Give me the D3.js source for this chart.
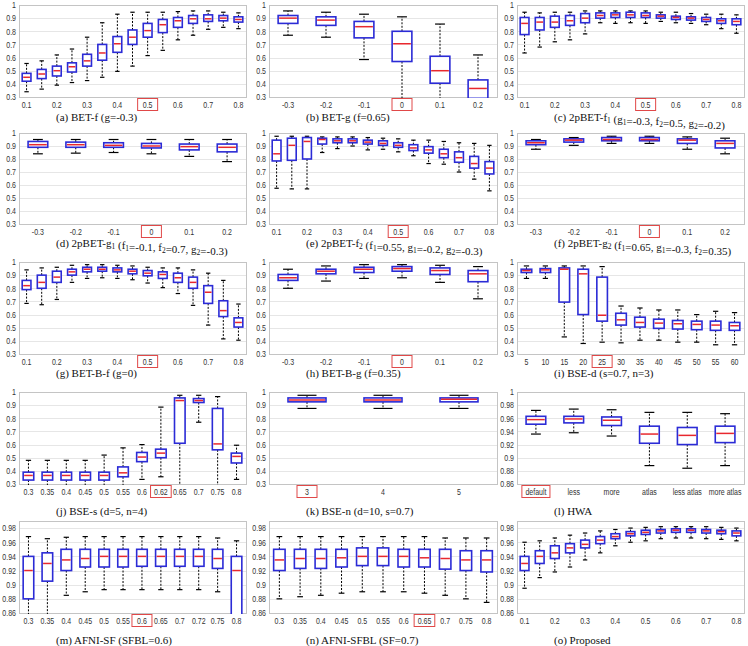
<!DOCTYPE html>
<html>
<head>
<meta charset="utf-8">
<script src="https://cdn.jsdelivr.net/npm/d3@7"></script>
<style>
  body { margin: 0; background: #fff; }
  svg { display: block; }
</style>
</head>
<body>
<div id="chart"></div>
<script>
// box stats are [low whisker, q1, median, q3, high whisker]

const fCats15 = ["0.1","0.15","0.2","0.25","0.3","0.35","0.4","0.45","0.5","0.55","0.6","0.65","0.7","0.75","0.8"];
const gCats6 = ["-0.3","-0.2","-0.1","0","0.1","0.2"];

const aStats = [
  [0.34,0.42,0.45,0.48,0.555],[0.36,0.44,0.475,0.51,0.575],[0.39,0.46,0.50,0.535,0.62],
  [0.41,0.49,0.53,0.56,0.665],[0.425,0.535,0.575,0.625,0.755],[0.45,0.58,0.635,0.70,0.865],
  [0.495,0.64,0.705,0.76,0.93],[0.535,0.70,0.755,0.81,0.945],[0.615,0.755,0.805,0.86,0.945],
  [0.655,0.79,0.85,0.89,0.945],[0.735,0.83,0.88,0.905,0.95],[0.77,0.86,0.895,0.92,0.955],
  [0.815,0.875,0.895,0.925,0.955],[0.83,0.88,0.90,0.92,0.945],[0.82,0.87,0.89,0.91,0.94]
];
const bStats = [
  [0.77,0.86,0.90,0.92,0.955],[0.755,0.845,0.885,0.91,0.945],[0.585,0.75,0.835,0.875,0.93],
  [0.25,0.57,0.705,0.80,0.91],[0.25,0.405,0.50,0.61,0.855],[0.25,0.29,0.365,0.43,0.62]
];
const cStats = [
  [0.635,0.775,0.86,0.905,0.945],[0.68,0.81,0.87,0.905,0.94],[0.72,0.83,0.87,0.915,0.945],
  [0.735,0.845,0.88,0.92,0.945],[0.78,0.865,0.90,0.935,0.955],[0.865,0.90,0.92,0.94,0.955],
  [0.86,0.905,0.925,0.94,0.955],[0.865,0.905,0.925,0.945,0.955],[0.86,0.905,0.92,0.94,0.955],
  [0.875,0.90,0.915,0.925,0.945],[0.865,0.89,0.905,0.915,0.945],[0.86,0.885,0.90,0.91,0.935],
  [0.85,0.875,0.89,0.905,0.93],[0.82,0.86,0.88,0.895,0.93],[0.785,0.85,0.875,0.895,0.925]
];
const dStats = [
  [0.84,0.89,0.91,0.935,0.95],[0.845,0.89,0.91,0.93,0.95],[0.85,0.89,0.905,0.925,0.95],
  [0.84,0.885,0.90,0.92,0.95],[0.82,0.87,0.895,0.915,0.95],[0.78,0.855,0.89,0.915,0.95]
];
const eStats = [
  [0.575,0.785,0.84,0.945,0.975],[0.57,0.79,0.905,0.96,0.975],[0.57,0.80,0.935,0.965,0.975],
  [0.85,0.915,0.95,0.96,0.97],[0.88,0.925,0.94,0.955,0.97],[0.90,0.925,0.94,0.955,0.97],
  [0.87,0.915,0.93,0.945,0.965],[0.875,0.905,0.92,0.94,0.96],[0.855,0.89,0.905,0.925,0.955],
  [0.825,0.865,0.885,0.91,0.945],[0.765,0.845,0.87,0.895,0.945],[0.76,0.81,0.84,0.875,0.935],
  [0.70,0.775,0.81,0.855,0.925],[0.645,0.73,0.765,0.82,0.92],[0.555,0.685,0.73,0.78,0.905]
];
const fStats = [
  [0.875,0.91,0.925,0.94,0.95],[0.905,0.93,0.945,0.955,0.965],[0.92,0.94,0.95,0.965,0.975],
  [0.92,0.94,0.95,0.965,0.975],[0.875,0.92,0.945,0.955,0.97],[0.84,0.885,0.92,0.94,0.96]
];
const gStats = [
  [0.685,0.79,0.82,0.86,0.94],[0.675,0.80,0.845,0.90,0.955],[0.715,0.845,0.885,0.93,0.96],
  [0.845,0.90,0.925,0.945,0.975],[0.875,0.925,0.945,0.96,0.98],[0.88,0.93,0.945,0.96,0.98],
  [0.875,0.925,0.94,0.955,0.975],[0.865,0.91,0.93,0.945,0.97],[0.84,0.895,0.915,0.935,0.96],
  [0.805,0.875,0.905,0.925,0.955],[0.76,0.845,0.88,0.915,0.955],[0.67,0.80,0.845,0.885,0.94],
  [0.52,0.685,0.77,0.82,0.915],[0.415,0.585,0.63,0.705,0.86],[0.405,0.505,0.54,0.575,0.68]
];
const hStats = [
  [0.80,0.86,0.88,0.905,0.945],[0.855,0.91,0.93,0.945,0.97],[0.875,0.92,0.945,0.96,0.98],
  [0.88,0.93,0.95,0.965,0.98],[0.845,0.905,0.935,0.955,0.975],[0.72,0.85,0.91,0.935,0.965]
];
const iCats = ["5","10","15","20","25","30","35","40","45","50","55","60"];
const iStats = [
  [0.875,0.92,0.935,0.945,0.97],[0.875,0.92,0.94,0.95,0.97],[0.43,0.695,0.945,0.955,0.97],
  [0.38,0.60,0.91,0.945,0.97],[0.39,0.55,0.595,0.885,0.965],[0.385,0.52,0.56,0.61,0.665],
  [0.405,0.505,0.54,0.58,0.65],[0.405,0.495,0.535,0.565,0.635],[0.39,0.49,0.53,0.555,0.635],
  [0.39,0.485,0.525,0.55,0.60],[0.37,0.48,0.52,0.55,0.625],[0.37,0.48,0.515,0.54,0.615]
];
const jCats = ["0.3","0.35","0.4","0.45","0.5","0.55","0.6","0.62","0.65","0.7","0.75","0.8"];
const jStats = [
  [0.28,0.33,0.365,0.39,0.48],[0.28,0.33,0.365,0.39,0.48],[0.28,0.33,0.365,0.39,0.48],
  [0.28,0.33,0.365,0.39,0.48],[0.28,0.33,0.365,0.39,0.52],[0.28,0.355,0.385,0.43,0.575],
  [0.335,0.47,0.505,0.54,0.60],[0.355,0.50,0.535,0.565,0.885],[0.25,0.61,0.935,0.955,0.975],
  [0.77,0.92,0.935,0.95,0.975],[0.25,0.56,0.605,0.875,0.965],[0.335,0.46,0.51,0.535,0.595]
];
const kCats = ["3","4","5"];
const kStats = [
  [0.875,0.925,0.94,0.955,0.975],[0.875,0.925,0.94,0.955,0.975],[0.875,0.925,0.945,0.955,0.975]
];
const lCats = ["default","less","more","atlas","less atlas","more atlas"];
const lStats = [
  [0.936,0.951,0.958,0.963,0.972],[0.938,0.953,0.959,0.963,0.974],[0.933,0.949,0.957,0.962,0.973],
  [0.888,0.922,0.936,0.948,0.969],[0.884,0.920,0.934,0.946,0.969],[0.888,0.923,0.937,0.948,0.967]
];
const mCats = ["0.3","0.35","0.4","0.45","0.5","0.55","0.6","0.65","0.7","0.72","0.75","0.8"];
const mStats = [
  [0.85,0.88,0.92,0.94,0.968],[0.855,0.905,0.93,0.945,0.965],[0.885,0.92,0.935,0.95,0.967],
  [0.89,0.925,0.937,0.95,0.968],[0.893,0.925,0.94,0.95,0.968],[0.893,0.925,0.94,0.95,0.968],
  [0.893,0.926,0.94,0.95,0.968],[0.893,0.926,0.94,0.95,0.968],[0.893,0.926,0.94,0.95,0.968],
  [0.893,0.926,0.94,0.95,0.968],[0.89,0.923,0.937,0.95,0.966],[0.85,0.855,0.92,0.94,0.962]
];
const nCats = ["0.3","0.35","0.4","0.45","0.5","0.55","0.6","0.65","0.7","0.75","0.8"];
const nStats = [
  [0.88,0.92,0.935,0.95,0.968],[0.883,0.923,0.937,0.95,0.968],[0.885,0.923,0.937,0.95,0.968],
  [0.888,0.925,0.938,0.95,0.968],[0.89,0.927,0.94,0.952,0.968],[0.89,0.927,0.94,0.952,0.968],
  [0.89,0.925,0.94,0.95,0.968],[0.888,0.925,0.938,0.95,0.968],[0.885,0.922,0.937,0.95,0.966],
  [0.88,0.92,0.935,0.948,0.966],[0.875,0.918,0.935,0.948,0.966]
];
const oStats = [
  [0.895,0.92,0.93,0.94,0.96],[0.91,0.93,0.94,0.948,0.962],[0.918,0.937,0.945,0.955,0.966],
  [0.925,0.945,0.952,0.958,0.97],[0.935,0.952,0.957,0.963,0.973],[0.945,0.958,0.963,0.968,0.976],
  [0.955,0.965,0.968,0.972,0.978],[0.96,0.969,0.972,0.975,0.98],[0.962,0.971,0.974,0.977,0.981],
  [0.965,0.973,0.976,0.978,0.982],[0.966,0.974,0.977,0.979,0.982],[0.966,0.974,0.977,0.979,0.982],
  [0.965,0.973,0.976,0.978,0.982],[0.964,0.972,0.975,0.977,0.981],[0.962,0.969,0.973,0.976,0.98]
];

// y ranges: [min, max, tick step]
const wideAxis = [0.3, 1, 0.1];
const hwaAxis = [0.86, 1, 0.02];
const lastRowAxis = [0.86, 0.99, 0.02];

// caption text uses _1 / _2 for subscripts
const panels = [
  {cap: "(a) BET-f (g=-0.3)", cats: fCats15, stats: aStats, mark: "0.5", every: 2, axis: wideAxis},
  {cap: "(b) BET-g (f=0.65)", cats: gCats6, stats: bStats, mark: "0", every: 1, axis: wideAxis},
  {cap: "(c) 2pBET-f_1 (g_1=-0.3, f_2=0.5, g_2=-0.2)", cats: fCats15, stats: cStats, mark: "0.5", every: 2, axis: wideAxis},
  {cap: "(d) 2pBET-g_1 (f_1=-0.1, f_2=0.7, g_2=-0.3)", cats: gCats6, stats: dStats, mark: "0", every: 1, axis: wideAxis},
  {cap: "(e) 2pBET-f_2 (f_1=0.55, g_1=-0.2, g_2=-0.3)", cats: fCats15, stats: eStats, mark: "0.5", every: 2, axis: wideAxis},
  {cap: "(f) 2pBET-g_2 (f_1=0.65, g_1=-0.3, f_2=0.35)", cats: gCats6, stats: fStats, mark: "0", every: 1, axis: wideAxis},
  {cap: "(g) BET-B-f (g=0)", cats: fCats15, stats: gStats, mark: "0.5", every: 2, axis: wideAxis},
  {cap: "(h) BET-B-g (f=0.35)", cats: gCats6, stats: hStats, mark: "0", every: 1, axis: wideAxis},
  {cap: "(i) BSE-d (s=0.7, n=3)", cats: iCats, stats: iStats, mark: "25", every: 1, axis: wideAxis},
  {cap: "(j) BSE-s (d=5, n=4)", cats: jCats, stats: jStats, mark: "0.62", every: 1, axis: wideAxis},
  {cap: "(k) BSE-n (d=10, s=0.7)", cats: kCats, stats: kStats, mark: "3", every: 1, axis: wideAxis},
  {cap: "(l) HWA", cats: lCats, stats: lStats, mark: "default", every: 1, axis: hwaAxis},
  {cap: "(m) AFNI-SF (SFBL=0.6)", cats: mCats, stats: mStats, mark: "0.6", every: 1, axis: lastRowAxis},
  {cap: "(n) AFNI-SFBL (SF=0.7)", cats: nCats, stats: nStats, mark: "0.65", every: 1, axis: lastRowAxis},
  {cap: "(o) Proposed", cats: fCats15, stats: oStats, mark: null, every: 2, axis: lastRowAxis}
];

const width = 748, height = 646;
const colX = [[19, 246], [269, 497], [517, 744]];
const rowY = [[5, 97], [133, 224], [262, 354], [392, 484], [521, 613]];
const capDy = [24, 23, 23, 31, 31];
const squeeze = 0.78;   // tick text in the original is a narrow face

const svg = d3.select("#chart").append("svg")
  .attr("width", width).attr("height", height)
  .style("font-family", "'Liberation Sans', Arial, sans-serif");

panels.forEach((p, idx) => {
  const col = idx % 3, row = Math.floor(idx / 3);
  const [x0, x1] = colX[col];
  const [y0, y1] = rowY[row];
  const [ymin, ymax, tstep] = p.axis;

  const x = d3.scalePoint().domain(p.cats).range([x0, x1]).padding(0.5);
  const y = d3.scaleLinear().domain([ymin, ymax]).range([y1, y0]);
  const step = x.step();
  const bw = step * 0.48 + 1.5;

  const g = svg.append("g");

  const ticks = d3.range(ymin, ymax + 1e-6, tstep).map(t => +t.toFixed(2));

  g.selectAll(".grid").data(ticks).enter().append("line")
    .attr("x1", x0).attr("x2", x1)
    .attr("y1", d => Math.round(y(d)) + 0.5).attr("y2", d => Math.round(y(d)) + 0.5)
    .attr("stroke", "#e6e6e6").attr("stroke-width", 1);

  g.append("rect")
    .attr("x", x0 + 0.5).attr("y", y0 + 0.5)
    .attr("width", x1 - x0).attr("height", y1 - y0)
    .attr("fill", "none").attr("stroke", "#c4c4c4").attr("stroke-width", 1);

  g.selectAll(".ylab").data(ticks).enter().append("text")
    .attr("transform", d => `translate(${x0 - 3},${y(d) + 3.3}) scale(${squeeze},1)`)
    .attr("text-anchor", "end").attr("font-size", 9).attr("fill", "#333")
    .text(d => String(d));

  // boxes, clipped to the plot frame
  const clipId = "clip" + idx;
  svg.append("clipPath").attr("id", clipId).append("rect")
    .attr("x", x0).attr("y", y0).attr("width", x1 - x0 + 1).attr("height", y1 - y0 + 1);

  const boxes = g.append("g").attr("clip-path", `url(#${clipId})`)
    .selectAll("g").data(p.stats).enter().append("g")
    .attr("transform", (d, i) => `translate(${x(p.cats[i])},0)`);

  boxes.append("line")
    .attr("y1", d => y(d[3])).attr("y2", d => y(d[4]))
    .attr("stroke", "#000").attr("stroke-width", 1).attr("stroke-dasharray", "2,1.5");
  boxes.append("line")
    .attr("y1", d => y(d[1])).attr("y2", d => y(d[0]))
    .attr("stroke", "#000").attr("stroke-width", 1).attr("stroke-dasharray", "2,1.5");
  boxes.append("line")
    .attr("x1", -bw / 4).attr("x2", bw / 4)
    .attr("y1", d => y(d[4])).attr("y2", d => y(d[4]))
    .attr("stroke", "#000").attr("stroke-width", 1.2);
  boxes.append("line")
    .attr("x1", -bw / 4).attr("x2", bw / 4)
    .attr("y1", d => y(d[0])).attr("y2", d => y(d[0]))
    .attr("stroke", "#000").attr("stroke-width", 1.2);
  boxes.append("rect")
    .attr("x", -bw / 2).attr("width", bw)
    .attr("y", d => y(d[3])).attr("height", d => Math.max(1, y(d[1]) - y(d[3])))
    .attr("fill", "#fff").attr("stroke", "#2b2bd6").attr("stroke-width", 1.6);
  boxes.append("line")
    .attr("x1", -bw / 2 + 1).attr("x2", bw / 2 - 1)
    .attr("y1", d => y(d[2])).attr("y2", d => y(d[2]))
    .attr("stroke", "#e8282e").attr("stroke-width", 1.5);

  // x labels
  const shown = p.cats.filter((c, i) => i % p.every === 0);
  const xl = g.selectAll(".xlab").data(shown).enter().append("text")
    .attr("transform", d => `translate(${x(d)},${y1 + 10.5}) scale(${squeeze},1)`)
    .attr("text-anchor", "middle").attr("font-size", 9).attr("fill", "#333")
    .text(d => d);

  if (p.mark !== null) {
    const node = xl.filter(d => d === p.mark).node();
    const tw = Math.max(20, node.getComputedTextLength() * squeeze + 7);
    g.append("rect")
      .attr("x", x(p.mark) - tw / 2).attr("y", y1 + 1.5)
      .attr("width", tw).attr("height", 12)
      .attr("fill", "none").attr("stroke", "#e04848").attr("stroke-width", 1);
  }

  // caption with subscripts
  const cap = g.append("text")
    .attr("x", x0 + 37).attr("y", y1 + capDy[row])
    .attr("font-family", "'Liberation Serif', 'Times New Roman', serif")
    .attr("font-size", 11).attr("fill", "#111");
  p.cap.split(/(_\d)/).forEach(part => {
    if (!part) return;
    if (part[0] === "_") {
      cap.append("tspan").attr("font-size", 7.5).attr("dy", 2).text(part.slice(1));
      cap.append("tspan").attr("font-size", 11).attr("dy", -2).text("");
    } else {
      cap.append("tspan").text(part);
    }
  });
});
</script>
</body>
</html>
